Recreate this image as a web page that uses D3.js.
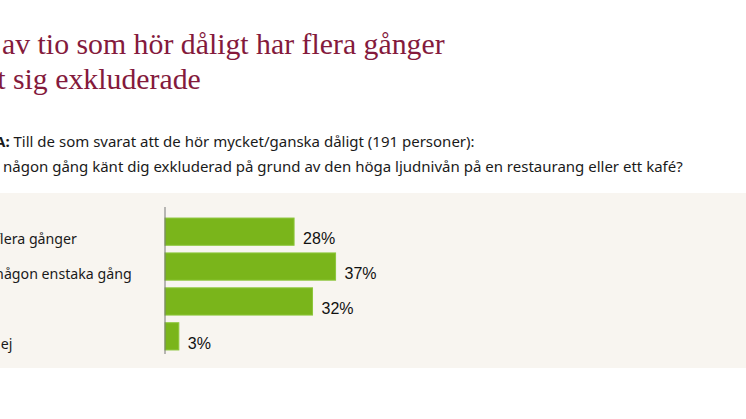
<!DOCTYPE html>
<html lang="sv">
	<head>
		<meta charset="utf-8">
		<title>exkluderade</title>
		<script type="text/javascript" src="https://d3js.org/d3.v7.min.js"></script>
		<style type="text/css">
			body{margin:0;background:#fff;overflow:hidden;}
			.title{font-family:"Liberation Serif",serif;font-size:29.8px;fill:#841a3c;}
			.sub{font-family:"Noto Sans",sans-serif;font-size:15px;fill:#1a1a1a;}
			.cat{font-family:"Noto Sans",sans-serif;font-size:14.2px;fill:#1a1a1a;}
			.val{font-family:"Liberation Sans",Arial,sans-serif;font-size:16px;fill:#111;}
		</style>
	</head>
	<body>
		<div id="chart1"></div>
		<script type="text/javascript">

			var titleLines = ["Tre av tio som hör dåligt har flera gånger", "känt sig exkluderade"]
			var questionLead = "FRÅGA:"
			var questionLines = [" Till de som svarat att de hör mycket/ganska dåligt (191 personer):",
				"Har du någon gång känt dig exkluderad på grund av den höga ljudnivån på en restaurang eller ett kafé?"]
			var categories = ["Ja, flera gånger", "Ja, någon enstaka gång", "Nej", "Vet ej"]
			var values = [28, 37, 32, 3]

			var w = 746
			var h = 419

			var svg = d3.select("#chart1")
						.append("svg")
						.attr("width", w)
						.attr("height", h)

			// width of a string in a given class, used to place the cropped left edge
			function textWidth(str, cls){
				var t = svg.append("text").attr("class", cls).text(str)
				var len = t.node().getComputedTextLength()
				t.remove()
				return len
			}
			// width of what comes before the word "rest" (trailing spaces would collapse)
			function prefixWidth(full, rest, cls){
				return textWidth(full, cls) - textWidth(rest, cls)
			}

			// the picture is cropped on the left: first visible words start near x=2
			var titleX = 2 - prefixWidth("Tre av", "av", "title")
			var subX = 3 - prefixWidth("Har du någon", "någon", "sub")
			var catX = 0 - prefixWidth("Ja, flera", "lera", "cat")

			// title
			svg.selectAll("text.title")
				.data(titleLines)
				.enter()
				.append("text")
				.attr("class", "title")
				.attr("x", titleX)
				.attr("y", function(d, i){ return 54 + i * 35 })
				.text(function(d){ return d })

			// question
			var q1 = svg.append("text").attr("class", "sub").attr("x", subX + 5).attr("y", 147)
			q1.append("tspan").attr("font-weight", "bold").text(questionLead)
			q1.append("tspan").text(questionLines[0])
			svg.append("text").attr("class", "sub").attr("x", subX).attr("y", 172).text(questionLines[1])

			// panel
			svg.append("rect")
				.attr("x", 0)
				.attr("y", 193)
				.attr("width", w)
				.attr("height", 175)
				.attr("fill", "#f8f5f0")

			var x0 = 165
			var xScale = d3.scaleLinear().domain([0, 100]).range([x0, x0 + 461])
			var yScale = d3.scaleBand().domain(d3.range(categories.length)).range([217, 351]).paddingInner(0.22).paddingOuter(0.03)

			svg.selectAll("rect.bar")
				.data(values)
				.enter()
				.append("rect")
				.attr("class", "bar")
				.attr("x", xScale(0))
				.attr("y", function(d, i){ return yScale(i) })
				.attr("width", function(d){ return xScale(d) - xScale(0) })
				.attr("height", yScale.bandwidth())
				.attr("fill", "#7ab51b")
				.attr("stroke", "#8cc63a")
				.attr("stroke-width", 1)

			svg.selectAll("text.val")
				.data(values)
				.enter()
				.append("text")
				.attr("class", "val")
				.attr("x", function(d){ return xScale(d) + 9 })
				.attr("y", function(d, i){ return yScale(i) + yScale.bandwidth() - 1 })
				.text(function(d){ return d + "%" })

			svg.selectAll("text.cat")
				.data(categories)
				.enter()
				.append("text")
				.attr("class", "cat")
				.attr("x", catX)
				.attr("y", function(d, i){ return yScale(i) + yScale.bandwidth() - 1 })
				.text(function(d){ return d })

			// axis line
			svg.append("line")
				.attr("x1", x0)
				.attr("x2", x0)
				.attr("y1", 207)
				.attr("y2", 354)
				.attr("stroke", "#777")
				.attr("stroke-width", 1)

		</script>
	</body>
</html>
